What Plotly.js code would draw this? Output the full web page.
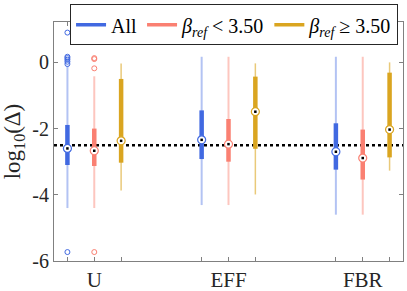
<!DOCTYPE html>
<html>
<head>
<meta charset="utf-8">
<script src="https://cdn.plot.ly/plotly-3.0.1.min.js"></script>
<style>html,body{margin:0;padding:0;background:#fff;}#chart{width:407px;height:291px;}</style>
</head>
<body>
<div id="chart"></div>
<script>
// ---- data (log10 of Delta) ----
const categories = ['U', 'EFF', 'FBR'];
const seriesNames = ['All', '<i>β</i><sub><i>ref</i></sub> &lt; 3.50', '<i>β</i><sub><i>ref</i></sub> ≥ 3.50'];

const allUpper  = [-0.10, 0.17, 0.17];
const allQ3     = [-1.89, -1.45, -1.84];
const allMedian = [-2.60, -2.34, -2.70];
const allQ1     = [-3.10, -2.92, -3.24];
const allLower  = [-4.40, -4.31, -4.60];
const allOutliersU = [0.90, 0.17, 0.13, 0.08, 0.02, -0.05, -5.73];

const ltUpper  = [-0.42, 0.17, 0.17];
const ltQ3     = [-2.00, -1.71, -2.03];
const ltMedian = [-2.67, -2.47, -2.89];
const ltQ1     = [-3.13, -3.00, -3.54];
const ltLower  = [-4.40, -4.31, -4.60];
const ltOutliersU = [0.90, 0.13, 0.10, -0.18, -5.73];

const geUpper  = [-0.03, -0.03, 0.00];
const geQ3     = [-0.50, -0.43, -0.31];
const geMedian = [-2.37, -1.49, -2.03];
const geQ1     = [-3.03, -2.61, -2.87];
const geLower  = [-3.87, -3.99, -3.27];
const geOutliersU = [];

const referenceLevel = -2.5;

// ---- styling ----
const colors = ['#4169E1', '#FA8072', '#DAA520'];
const whiskerColors = ['rgba(65,105,225,0.40)', 'rgba(250,128,114,0.45)', 'rgba(218,165,32,0.60)'];
const whiskerWidths = [2, 2, 1.5];
const offsets = [-0.2, 0, 0.2];
const FONT = 'Liberation Serif';

const groups = [
  {upper: allUpper, q3: allQ3, med: allMedian, q1: allQ1, lower: allLower, out: allOutliersU},
  {upper: ltUpper,  q3: ltQ3,  med: ltMedian,  q1: ltQ1,  lower: ltLower,  out: ltOutliersU},
  {upper: geUpper,  q3: geQ3,  med: geMedian,  q1: geQ1,  lower: geLower,  out: geOutliersU}
];

const traces = [];
groups.forEach((g, s) => {
  const wx = [], wy = [], bx = [], by = [], mx = [], my = [];
  categories.forEach((c, i) => {
    const x = i + 1 + offsets[s];
    wx.push(x, x, null); wy.push(g.lower[i], g.upper[i], null);
    bx.push(x, x, null); by.push(g.q1[i], g.q3[i], null);
    mx.push(x); my.push(g.med[i]);
  });
  traces.push({x: wx, y: wy, mode: 'lines', line: {color: whiskerColors[s], width: whiskerWidths[s]}, showlegend: false, hoverinfo: 'skip'});
  traces.push({x: bx, y: by, mode: 'lines', line: {color: colors[s], width: 4.5}, showlegend: false, hoverinfo: 'skip'});
  if (g.out.length) {
    traces.push({x: g.out.map(() => 1 + offsets[s]), y: g.out, mode: 'markers',
      marker: {symbol: 'circle-open', size: 5, color: colors[s], line: {width: 1}}, showlegend: false, hoverinfo: 'skip'});
  }
  traces.push({x: mx, y: my, mode: 'markers', marker: {symbol: 'circle', size: 8, color: 'white', line: {color: colors[s], width: 1.2}}, showlegend: false});
  traces.push({x: mx, y: my, mode: 'markers', marker: {symbol: 'square', size: 2.5, color: 'black'}, showlegend: false});
});
// legend entries
seriesNames.forEach((n, s) => {
  traces.push({x: [null], y: [null], mode: 'lines', name: n, line: {color: colors[s], width: 3.5}});
});

const tickvals = [], ticktext = [];
categories.forEach((c, i) => offsets.forEach(o => { tickvals.push(i + 1 + o); ticktext.push(o === 0 ? c : ''); }));

const layout = {
  width: 407, height: 291,
  margin: {l: 54, r: 4, t: 18, b: 30},
  paper_bgcolor: 'white', plot_bgcolor: 'white',
  font: {family: FONT, color: '#262626'},
  showlegend: true,
  legend: {orientation: 'h', x: 0.046, y: 1.074, xanchor: 'left', yanchor: 'top',
    bordercolor: '#262626', borderwidth: 1, bgcolor: 'white', font: {family: FONT, size: 20, color: '#000'},
    tracegroupgap: 0, itemwidth: 30},
  xaxis: {range: [0.7, 3.3], tickvals: tickvals, ticktext: ticktext, ticks: 'inside', ticklen: 4,
    tickcolor: '#808080', showline: true, linecolor: '#808080', linewidth: 1, mirror: 'ticks',
    showgrid: false, zeroline: false, tickfont: {family: FONT, size: 21, color: '#262626'}},
  yaxis: {range: [-6, 1.22], tickvals: [-6, -4, -2, 0], ticktext: ['-6', '-4', '-2', '0'], ticks: 'inside', ticklen: 4,
    tickcolor: '#808080', showline: true, linecolor: '#808080', linewidth: 1, mirror: 'ticks',
    showgrid: false, zeroline: false, tickfont: {family: FONT, size: 20, color: '#262626'},
    title: {text: 'log<sub>10</sub>(Δ)', font: {family: FONT, size: 23, color: '#262626'}, standoff: 6}},
  shapes: [{type: 'line', xref: 'paper', x0: 0, x1: 1, yref: 'y', y0: referenceLevel, y1: referenceLevel,
    line: {color: 'black', width: 2.5, dash: 'dot'}, layer: 'below'}]
};

Plotly.newPlot('chart', traces, layout, {displayModeBar: false, staticPlot: true});
</script>
</body>
</html>
